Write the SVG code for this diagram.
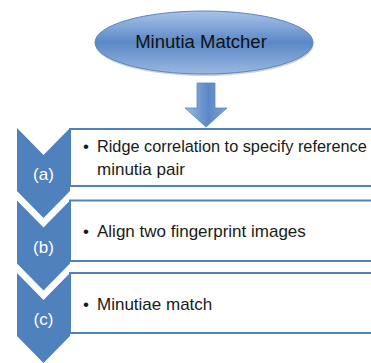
<svg xmlns="http://www.w3.org/2000/svg" width="371" height="363" viewBox="0 0 371 363">
  <defs>
    <linearGradient id="ellG" x1="0" y1="0" x2="0" y2="1">
      <stop offset="0" stop-color="#a9c3e8"/>
      <stop offset="0.5" stop-color="#5b88c6"/>
      <stop offset="1" stop-color="#9ab8e2"/>
    </linearGradient>
    <linearGradient id="arrG" x1="0" y1="0" x2="1" y2="0">
      <stop offset="0" stop-color="#9fbbe4"/>
      <stop offset="0.55" stop-color="#5a87c5"/>
      <stop offset="1" stop-color="#7ea2d6"/>
    </linearGradient>
    <style>
      .chev { fill: #4f81bd; }
      .box { fill: #ffffff; stroke: #4f81bd; stroke-width: 2; }
      .lbl { font-family: "Liberation Sans", Arial, sans-serif; font-size: 17px; fill: #ffffff; text-anchor: middle; }
      .txt { font-family: "Liberation Sans", Arial, sans-serif; font-size: 17px; fill: #1a1a1a; }
      .title { font-family: "Liberation Sans", Arial, sans-serif; font-size: 18.5px; fill: #111111; text-anchor: middle; }
    </style>
  </defs>
  <rect x="0" y="0" width="371" height="363" fill="#ffffff"/>

  <g id="node-matcher">
    <ellipse cx="204.5" cy="44.5" rx="109" ry="31.5" fill="#6f7f95" opacity="0.35"/>
    <ellipse cx="204" cy="42.5" rx="109" ry="31.5" fill="url(#ellG)" stroke="#5a84c0" stroke-width="1"/>
    <text class="title" x="201" y="47.5">Minutia Matcher</text>
  </g>

  <g id="connectors">
    <path d="M197,83 L215,83 L215,108 L227,108 L206,127 L185,108 L197,108 Z" fill="url(#arrG)" stroke="#5b86c2" stroke-width="0.8"/>
  </g>

  <g id="node-a">
    <rect class="box" x="70" y="129" width="320" height="57"/>
    <path class="chev" d="M17,128 L43.5,155 L70,128 L70,191 L43.5,218 L17,191 Z"/>
    <text class="lbl" x="43.5" y="179.5">(a)</text>
    <text class="txt" x="83" y="152">•</text>
    <text class="txt" x="97" y="152" style="font-size:16.3px">Ridge correlation to specify reference</text>
    <text class="txt" x="97" y="175">minutia pair</text>
  </g>

  <g id="node-b">
    <rect class="box" x="70" y="200.5" width="320" height="60.5"/>
    <path class="chev" d="M17,200.5 L43.5,227.5 L70,200.5 L70,263.5 L43.5,290.5 L17,263.5 Z"/>
    <text class="lbl" x="43.5" y="252.5">(b)</text>
    <text class="txt" x="83" y="236.5">•</text>
    <text class="txt" x="97" y="236.5">Align two fingerprint images</text>
  </g>

  <g id="node-c">
    <rect class="box" x="70" y="273" width="320" height="60"/>
    <path class="chev" d="M17,273 L43.5,300 L70,273 L70,336 L43.5,363 L17,336 Z"/>
    <text class="lbl" x="43.5" y="325">(c)</text>
    <text class="txt" x="83" y="310">•</text>
    <text class="txt" x="97" y="310">Minutiae match</text>
  </g>
</svg>
